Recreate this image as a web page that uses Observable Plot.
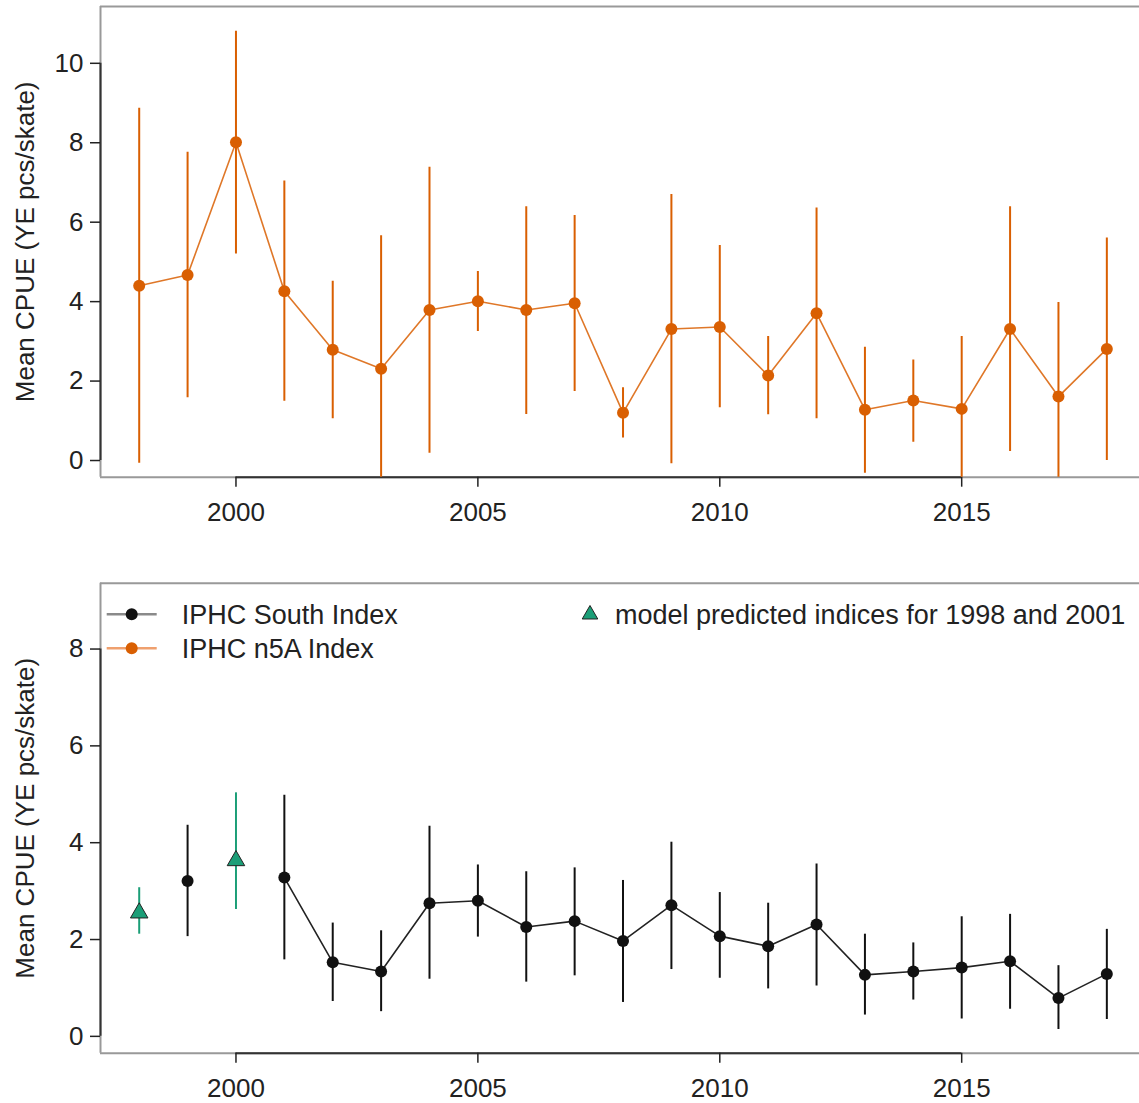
<!DOCTYPE html>
<html><head><meta charset="utf-8">
<script src="https://cdn.jsdelivr.net/npm/d3@7"></script>
<script src="https://cdn.jsdelivr.net/npm/@observablehq/plot@0.6"></script>
<style>
body{margin:0;background:#fff;}
#wrap{position:relative;width:1139px;height:1103px;overflow:hidden;font-family:"Liberation Sans",Arial,Helvetica,sans-serif;}
#wrap svg.plot{display:block;}
#legend{position:absolute;left:0;top:0;pointer-events:none;}
</style></head><body><div id="wrap"></div>
<script>
// ---- data ----
const years = [1998,1999,2000,2001,2002,2003,2004,2005,2006,2007,2008,2009,2010,2011,2012,2013,2014,2015,2016,2017,2018];
const n5aMean = [4.40,4.67,8.01,4.26,2.79,2.31,3.79,4.01,3.79,3.96,1.20,3.31,3.36,2.14,3.71,1.28,1.51,1.30,3.31,1.61,2.81];
const n5aLo   = [-0.07,1.58,5.20,1.49,1.05,-1.04,0.18,3.25,1.16,1.74,0.57,-0.08,1.33,1.15,1.05,-0.32,0.46,-0.52,0.23,-0.76,0.00];
const n5aHi   = [8.87,7.76,10.81,7.04,4.51,5.66,7.38,4.76,6.39,6.17,1.83,6.70,5.41,3.12,6.36,2.85,2.53,3.12,6.39,3.98,5.60];

const southYears = [1999,2001,2002,2003,2004,2005,2006,2007,2008,2009,2010,2011,2012,2013,2014,2015,2016,2017,2018];
const southMean  = [3.21,3.28,1.53,1.34,2.75,2.80,2.26,2.38,1.97,2.71,2.07,1.86,2.31,1.27,1.34,1.42,1.55,0.79,1.29];
const southLo    = [2.06,1.58,0.72,0.51,1.18,2.05,1.12,1.25,0.70,1.38,1.20,0.98,1.04,0.44,0.75,0.36,0.56,0.14,0.35];
const southHi    = [4.36,4.98,2.34,2.18,4.34,3.54,3.40,3.48,3.22,4.01,2.97,2.75,3.56,2.11,1.93,2.47,2.52,1.46,2.21];

const modelYears = [1998,2000];
const modelMean  = [2.55,3.63];
const modelLo    = [2.11,2.62];
const modelHi    = [3.07,5.03];

const yTicksTop = [0,2,4,6,8,10];
const yTicksBottom = [0,2,4,6,8];
const xTicks = [2000,2005,2010,2015];
const yLabel = "Mean CPUE (YE pcs/skate)";
const legendSeries = ["IPHC South Index","IPHC n5A Index"];
const legendModel = "model predicted indices for 1998 and 2001";

const ORANGE = "#D95F02", GREEN = "#1B9E77", BLACK = "#111";

// ---- tables ----
const n5a = years.map((y,i)=>({year:y, mean:n5aMean[i], lo:n5aLo[i], hi:n5aHi[i]}));
const south = southYears.map((y,i)=>({year:y, mean:southMean[i], lo:southLo[i], hi:southHi[i]}));
const southLine = south.filter(d=>d.year>=2001);
const model = modelYears.map((y,i)=>({year:y, mean:modelMean[i], lo:modelLo[i], hi:modelHi[i]}));

const XDOM = [1997.2, 2018.675];
const FONT = "Liberation Sans, Arial, Helvetica, sans-serif";

function panel({height, marginTop, marginBottom, ydomain, yticks, marks}) {
  return Plot.plot({
    width: 1139, height, marginLeft: 100, marginRight: 0, marginTop, marginBottom,
    style: {fontFamily: FONT, fontSize: "26px", color: "#222", background: "white", overflow: "visible"},
    x: {domain: XDOM},
    y: {domain: ydomain},
    marks: [
      Plot.ruleY([ydomain[1]], {stroke: "#999", strokeWidth: 2}),
      Plot.ruleY([ydomain[0]], {stroke: "#999", strokeWidth: 2}),
      Plot.ruleX([XDOM[0]], {stroke: "#999", strokeWidth: 2}),
      Plot.ruleX([XDOM[0]], {y1: yticks[0], y2: yticks[yticks.length-1], stroke: "#333", strokeWidth: 2}),
      Plot.ruleY([ydomain[0]], {x1: xTicks[0], x2: xTicks[xTicks.length-1], stroke: "#333", strokeWidth: 2}),
      Plot.axisY(yticks, {tickSize: 10, tickPadding: 7, fontSize: 26, color: "#222", strokeWidth: 1.5, label: null}),
      Plot.axisX(xTicks, {tickSize: 10, tickPadding: 15, fontSize: 26, color: "#222", strokeWidth: 1.5, label: null, tickFormat: d => String(d)}),
      Plot.text([yLabel], {text: d => d, frameAnchor: "left", textAnchor: "middle", lineAnchor: "middle", dx: -75, rotate: -90, fontSize: 26, fill: "#222"}),
      ...marks
    ]
  });
}

const topPanel = panel({
  height: 540, marginTop: 6, marginBottom: 63.3,
  ydomain: [-0.42, 11.43], yticks: yTicksTop,
  marks: [
    Plot.ruleX(n5a, {x: "year", y1: "lo", y2: "hi", stroke: ORANGE, strokeWidth: 2, clip: true}),
    Plot.line(n5a, {x: "year", y: "mean", stroke: ORANGE, strokeWidth: 1.6, strokeOpacity: 0.85}),
    Plot.dot(n5a, {x: "year", y: "mean", r: 6, fill: ORANGE})
  ]
});

const bottomPanel = panel({
  height: 563, marginTop: 42.7, marginBottom: 50.2,
  ydomain: [-0.35, 9.36], yticks: yTicksBottom,
  marks: [
    Plot.ruleX(south, {x: "year", y1: "lo", y2: "hi", stroke: BLACK, strokeWidth: 2, clip: true}),
    Plot.ruleX(model, {x: "year", y1: "lo", y2: "hi", stroke: GREEN, strokeWidth: 2, clip: true}),
    Plot.line(southLine, {x: "year", y: "mean", stroke: "#222", strokeWidth: 1.6}),
    Plot.dot(south, {x: "year", y: "mean", r: 6, fill: BLACK}),
    Plot.dot(model, {x: "year", y: "mean", r: 6.5, symbol: "triangle", fill: GREEN, stroke: "#222", strokeWidth: 1})
  ]
});

const wrap = document.getElementById("wrap");
topPanel.classList.add("plot"); bottomPanel.classList.add("plot");
wrap.appendChild(topPanel);
wrap.appendChild(bottomPanel);

// ---- legend overlay (inside lower panel, top) ----
const svg = d3.select(wrap).append("svg").attr("id","legend")
  .attr("width",1139).attr("height",1103)
  .style("font-family", FONT).style("font-size","27px");
const rows = [
  {label: legendSeries[0], line: "#8a8a8a", dot: BLACK, y: 614.3},
  {label: legendSeries[1], line: "#EFA06E", dot: ORANGE, y: 648.3}
];
rows.forEach(r => {
  svg.append("line").attr("x1",106.7).attr("x2",156.7).attr("y1",r.y).attr("y2",r.y)
    .attr("stroke",r.line).attr("stroke-width",2.5);
  svg.append("circle").attr("cx",131.7).attr("cy",r.y).attr("r",6).attr("fill",r.dot);
  svg.append("text").attr("x",181.7).attr("y",r.y).attr("dy","0.35em").attr("fill","#222").text(r.label);
});
svg.append("path").attr("d", d3.symbol(d3.symbolTriangle, 105)())
  .attr("transform","translate(590,614.5)").attr("fill",GREEN).attr("stroke","#222").attr("stroke-width",1);
svg.append("text").attr("x",615).attr("y",614.3).attr("dy","0.35em").attr("fill","#222").text(legendModel);
</script>
</body></html>
